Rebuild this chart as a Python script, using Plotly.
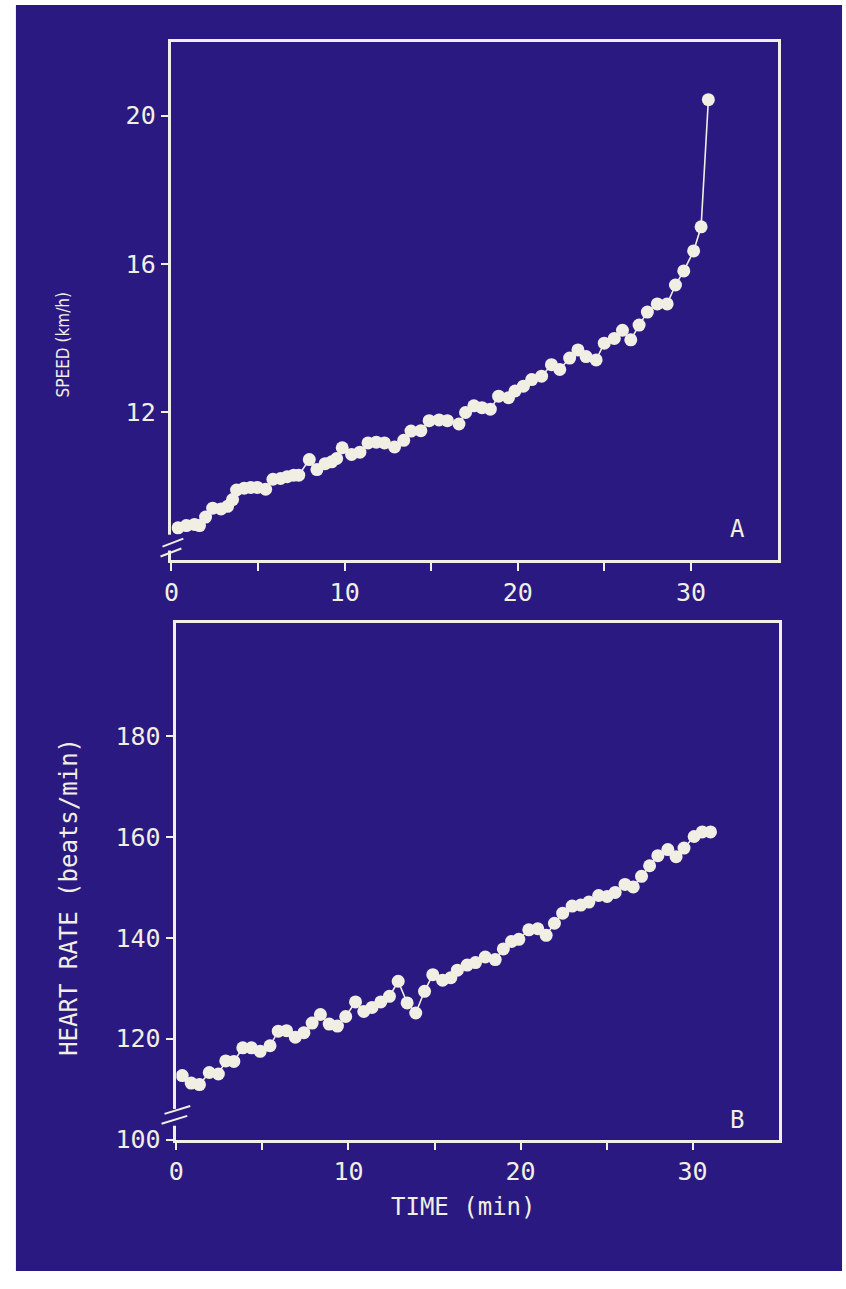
import plotly.graph_objects as go

# ---------------- data ----------------
speed_time = [0.38, 0.86, 1.33, 1.62, 1.97, 2.38, 2.86, 3.24, 3.53, 3.76, 4.2, 4.58, 4.96, 5.44,
              5.86, 6.3, 6.68, 7.06, 7.35, 7.96, 8.4, 8.87, 9.25, 9.54, 9.86, 10.4, 10.88, 11.35,
              11.83, 12.3, 12.88, 13.41, 13.83, 14.4, 14.88, 15.45, 15.93, 16.6, 16.98, 17.46,
              17.93, 18.41, 18.89, 19.46, 19.84, 20.32, 20.8, 21.37, 21.94, 22.42, 22.99, 23.47,
              23.94, 24.52, 24.99, 25.57, 26.04, 26.52, 27.0, 27.48, 28.05, 28.62, 29.1, 29.58,
              30.15, 30.58, 31.0]
speed_kmh = [8.88, 8.94, 8.97, 8.94, 9.17, 9.41, 9.39, 9.46, 9.64, 9.90, 9.95, 9.97, 9.97, 9.92,
             10.19, 10.21, 10.26, 10.30, 10.30, 10.72, 10.45, 10.61, 10.66, 10.75, 11.04, 10.86,
             10.92, 11.17, 11.19, 11.17, 11.06, 11.24, 11.49, 11.5, 11.77, 11.79, 11.77, 11.68,
             11.99, 12.17, 12.12, 12.08, 12.43, 12.39, 12.57, 12.70, 12.88, 12.97, 13.28, 13.15,
             13.46, 13.68, 13.5, 13.41, 13.86, 13.99, 14.21, 13.95, 14.35, 14.70, 14.92, 14.92,
             15.43, 15.81, 16.35, 17.0, 20.43]

hr_time = [0.34, 0.86, 1.34, 1.91, 2.44, 2.87, 3.34, 3.86, 4.36, 4.87, 5.44, 5.92, 6.4, 6.91,
           7.41, 7.89, 8.37, 8.88, 9.36, 9.84, 10.41, 10.89, 11.37, 11.88, 12.38, 12.89, 13.41,
           13.91, 14.42, 14.9, 15.47, 15.95, 16.33, 16.9, 17.38, 17.95, 18.53, 19.0, 19.48, 19.9,
           20.48, 21.0, 21.49, 21.97, 22.45, 23.0, 23.5, 23.97, 24.54, 25.03, 25.5, 26.07, 26.55,
           27.03, 27.5, 27.98, 28.56, 29.04, 29.5, 30.09, 30.56, 31.04]
hr_bpm = [112.7, 111.2, 110.9, 113.3, 113.0, 115.6, 115.5, 118.2, 118.2, 117.5, 118.6, 121.5,
          121.6, 120.3, 121.2, 123.1, 124.8, 122.9, 122.5, 124.4, 127.3, 125.4, 126.2, 127.3,
          128.4, 131.4, 127.1, 125.1, 129.4, 132.7, 131.6, 132.1, 133.6, 134.6, 135.1, 136.2,
          135.7, 137.8, 139.3, 139.7, 141.6, 141.8, 140.5, 142.9, 144.9, 146.3, 146.5, 147.1,
          148.4, 148.2, 149.0, 150.6, 150.1, 152.2, 154.3, 156.3, 157.5, 156.1, 157.8, 160.1,
          161.0, 161.0]

time_ticks = [0, 5, 10, 15, 20, 25, 30]
time_labels = ["0", "", "10", "", "20", "", "30"]
speed_ticks = [12, 16, 20]
hr_ticks = [100, 120, 140, 160, 180]

# ---------------- style ----------------
W, H = 846, 1289
BLUE = "#2a1980"
INK = "#f1efe4"
FONT = "DejaVu Sans Mono, Liberation Mono, monospace"
NARROW = "DejaVu Sans Condensed, Liberation Sans Narrow, DejaVu Sans, sans-serif"


def P(px, py):
    return px / W, 1 - py / H


fig = go.Figure()
fig.add_trace(go.Scatter(x=speed_time, y=speed_kmh, mode="lines+markers",
                         line=dict(color=INK, width=1.6),
                         marker=dict(color=INK, size=13), xaxis="x", yaxis="y",
                         showlegend=False))
fig.add_trace(go.Scatter(x=hr_time, y=hr_bpm, mode="lines+markers",
                         line=dict(color=INK, width=1.6),
                         marker=dict(color=INK, size=13), xaxis="x2", yaxis="y2",
                         showlegend=False))

axis_common = dict(showline=True, linecolor=INK, linewidth=2.5, mirror=True,
                   showgrid=False, zeroline=False, ticks="outside", ticklen=8,
                   tickwidth=2, tickcolor=INK,
                   tickfont=dict(family=FONT, size=25, color=INK))

fig.update_layout(
    width=W, height=H,
    margin=dict(l=0, r=0, t=0, b=0),
    paper_bgcolor="white", plot_bgcolor=BLUE,
    xaxis=dict(domain=[165 / W, 777 / W], range=[0, 35], anchor="y",
               tickvals=time_ticks, ticktext=time_labels, **axis_common),
    yaxis=dict(domain=[1 - 567 / H, 1 - 42 / H], range=[8, 22], anchor="x",
               tickvals=speed_ticks, **axis_common),
    xaxis2=dict(domain=[170 / W, 778 / W], range=[0, 35], anchor="y2",
                tickvals=time_ticks, ticktext=time_labels, **axis_common),
    yaxis2=dict(domain=[1 - 1153 / H, 1 - 630 / H], range=[100, 202.5], anchor="x2",
                tickvals=hr_ticks, **axis_common),
)

shapes = []
# blue page with thin white border
x0, y0 = P(8, 1286)
x1, y1 = P(842, 5)
shapes.append(dict(type="rect", xref="paper", yref="paper", x0=x0, y0=y0, x1=x1, y1=y1,
                   fillcolor=BLUE, line=dict(width=0), layer="below"))


def axis_break(cx, gap_top, gap_bot, lines):
    a0, b0 = P(cx - 4, gap_bot)
    a1, b1 = P(cx + 4, gap_top)
    shapes.append(dict(type="rect", xref="paper", yref="paper", x0=a0, y0=b0, x1=a1, y1=b1,
                       fillcolor=BLUE, line=dict(width=0), layer="above"))
    for (ax, ay, bx, by) in lines:
        p0 = P(ax, ay)
        p1 = P(bx, by)
        shapes.append(dict(type="line", xref="paper", yref="paper", x0=p0[0], y0=p0[1],
                           x1=p1[0], y1=p1[1], line=dict(color=INK, width=2), layer="above"))


axis_break(165, 541, 557, [(156, 553, 177, 545), (154, 563, 175, 555)])
axis_break(170, 1122, 1139, [(158, 1127, 184, 1119), (155, 1137, 181, 1129)])
fig.update_layout(shapes=shapes)

ann = []


def text(px, py, s, size=22, angle=0, family=FONT):
    x, y = P(px, py)
    ann.append(dict(x=x, y=y, xref="paper", yref="paper", text=s, showarrow=False,
                    textangle=angle, xanchor="center", yanchor="middle",
                    font=dict(family=family, size=size, color=INK)))


text(736, 535, "A", 24)
text(736, 1133, "B", 24)
text(55, 349, "SPEED (km/h)", 17, -90, NARROW)
text(62, 907, "HEART RATE (beats/min)", 24, -90)
text(460, 1221, "TIME (min)", 24)
fig.update_layout(annotations=ann)

post = ("document.documentElement.style.margin='0px';"
        "document.body.style.margin='0px';"
        "document.body.style.overflow='hidden';"
        "var g=document.getElementById('{plot_id}');"
        "g.style.position='fixed';g.style.left='0px';g.style.top='0px';")
fig.write_html("out.html", config={"displayModeBar": False}, post_script=post)
